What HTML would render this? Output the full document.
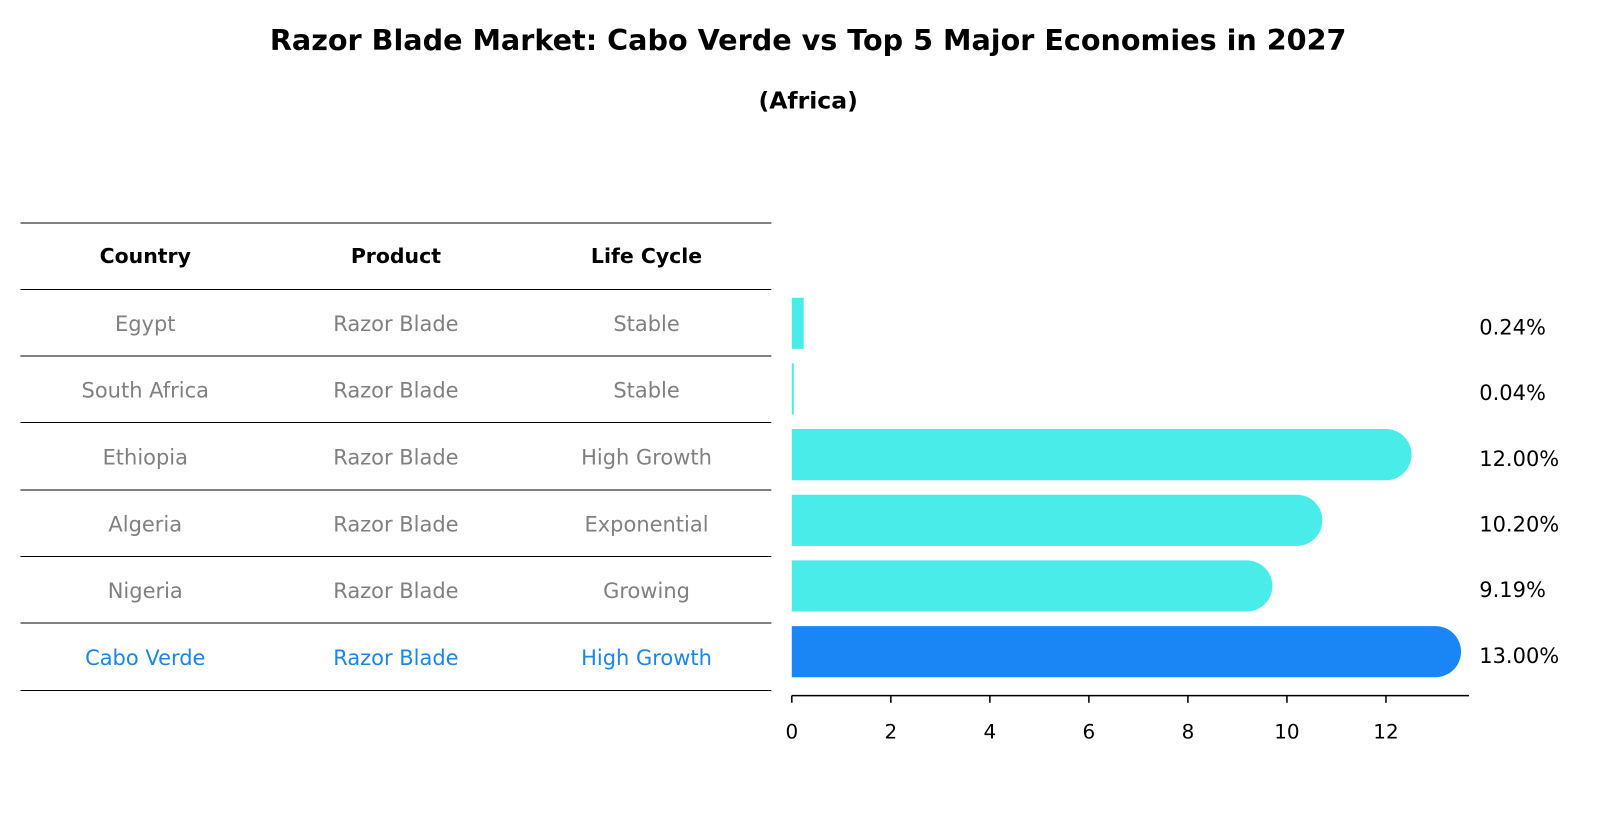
<!DOCTYPE html>
<html><head><meta charset="utf-8"><style>
body{margin:0;background:#fff;font-family:"DejaVu Sans","Liberation Sans",sans-serif;}
svg text{font-family:"DejaVu Sans","Liberation Sans",sans-serif;}
</style></head><body>
<svg id="c" width="1604" height="823" xmlns="http://www.w3.org/2000/svg">
<g transform="scale(1.023)">
<text x="790" y="49" text-anchor="middle" font-size="28" font-weight="bold">Razor Blade Market: Cabo Verde vs Top 5 Major Economies in 2027</text>
<text x="790" y="106" text-anchor="middle" font-size="23" font-weight="bold">(Africa)</text>
<g id="table"></g>
<g id="bars"></g>
</g>
</svg>
<script>
const countries=["Egypt","South Africa","Ethiopia","Algeria","Nigeria","Cabo Verde"];
const products=["Razor Blade","Razor Blade","Razor Blade","Razor Blade","Razor Blade","Razor Blade"];
const lifeCycles=["Stable","Stable","High Growth","Exponential","Growing","High Growth"];
const values=[0.24,0.04,12.00,10.20,9.19,13.00];
const valueLabels=["0.24%","0.04%","12.00%","10.20%","9.19%","13.00%"];
const ticks=[0,2,4,6,8,10,12];
const NS="http://www.w3.org/2000/svg";
function mk(t,a,p,txt){const e=document.createElementNS(NS,t);for(const k in a)e.setAttribute(k,a[k]);if(txt!==undefined)e.textContent=txt;p.appendChild(e);return e;}
const tbl=document.getElementById('table'),bars=document.getElementById('bars');
const lineYs=[218,283,348,413,479,544,609,675];
const colX=[142,387,632];
lineYs.forEach((y,i)=>{const l=mk('line',{x1:20,x2:754,y1:y,y2:y,stroke:'#000','stroke-width':1},tbl);

});
["Country","Product","Life Cycle"].forEach((h,j)=>{const t=mk('text',{x:colX[j],y:257,'text-anchor':'middle','font-size':20,'font-weight':'bold'},tbl,h);

});
const x0=774,pxPer=48.4;
function xs(v){return x0+v*pxPer;}
function rowY(i){return 316+i*64.2;}
countries.forEach((c,i)=>{
 const col=i===countries.length-1?'#1a86e8':'#808080';
 [c,products[i],lifeCycles[i]].forEach((s,j)=>{const t=mk('text',{x:colX[j],y:(lineYs[i+1]+lineYs[i+2])/2+8,'text-anchor':'middle','font-size':20.5,fill:col},tbl,s);
 
 });
 const y=rowY(i),h=50,r=25,w=xs(values[i])-x0;
 const fill=i===countries.length-1?'#1a86f5':'#4aecea';
 let d;
 if(w>r){d=`M${x0},${y-h/2} H${x0+w} A${r},${r} 0 0 1 ${x0+w},${y+h/2} H${x0} Z`;}
 else{d=`M${x0},${y-h/2} H${x0+Math.max(w,1)} V${y+h/2} H${x0} Z`;}
 const b=mk('path',{d:d,fill:fill},bars);
 
 
 const lt=mk('text',{x:1446,y:y+11,'font-size':20.5},bars,valueLabels[i]);
 
 
});
const ax=mk('line',{x1:x0,x2:1436,y1:680,y2:680,stroke:'#000','stroke-width':1.5},bars);


ticks.forEach(t=>{const l=mk('line',{x1:xs(t),x2:xs(t),y1:680,y2:687,stroke:'#000','stroke-width':1.5},bars);


const tx=mk('text',{x:xs(t),y:722,'text-anchor':'middle','font-size':19.5},bars,String(t));

});
</script>
</body></html>
